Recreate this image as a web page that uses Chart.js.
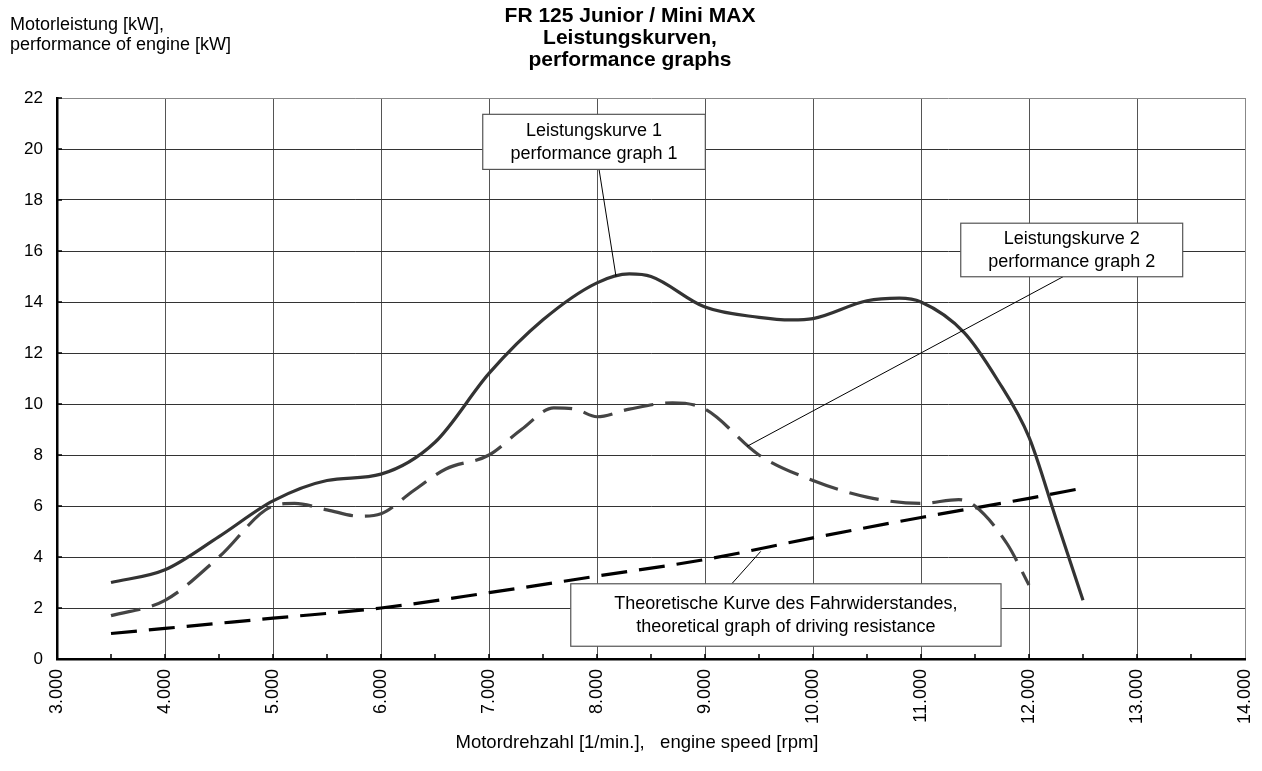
<!DOCTYPE html>
<html>
<head>
<meta charset="utf-8">
<script src="https://cdn.jsdelivr.net/npm/chart.js@4.4.1/dist/chart.umd.min.js"></script>
<style>
  html, body { margin: 0; padding: 0; background: #fff; }
  #wrap { width: 1262px; height: 771px; position: relative; }
</style>
</head>
<body>
<div id="wrap"><canvas id="powerChart"></canvas></div>
<script>
// engine speed [rpm] / power [kW]
const rpmCurve1 = [3500, 4000, 4500, 5000, 5500, 6000, 6500, 7000, 7500, 8000, 8300, 8500, 9000, 9500, 9800, 10000, 10500, 10800, 11000, 11400, 11700, 12000, 12250, 12500];
const kwCurve1 = [3.0, 3.5, 4.8, 6.2, 7.0, 7.25, 8.5, 11.2, 13.3, 14.75, 15.1, 15.0, 13.8, 13.4, 13.3, 13.35, 14.05, 14.15, 14.0, 12.8, 11.0, 8.7, 5.5, 2.3];

const rpmCurve2 = [3500, 4000, 4500, 5000, 5200, 5500, 5800, 6000, 6300, 6600, 7000, 7300, 7600, 7800, 8000, 8300, 8700, 9000, 9500, 10000, 10500, 11000, 11350, 11500, 11800, 12000];
const kwCurve2 = [1.7, 2.3, 4.0, 6.0, 6.1, 5.85, 5.6, 5.7, 6.6, 7.45, 8.0, 9.0, 9.85, 9.8, 9.5, 9.8, 10.05, 9.8, 8.0, 7.0, 6.35, 6.1, 6.25, 6.0, 4.5, 2.9];

const rpmResist = [3500, 4000, 5000, 6000, 7000, 8000, 9000, 10000, 11000, 12000, 12500];
const kwResist = [1.0, 1.2, 1.6, 2.0, 2.6, 3.25, 3.9, 4.75, 5.55, 6.3, 6.7];

const titleLines = ['FR 125 Junior / Mini MAX', 'Leistungskurven,', 'performance graphs'];
const yTitleLines = ['Motorleistung [kW],', 'performance of engine [kW]'];
const xTitle = 'Motordrehzahl [1/min.],   engine speed [rpm]';

// callout boxes, in axis units (rpm, kW)
const callouts = [
  { lines: ['Leistungskurve 1', 'performance graph 1'], x1: 6942, x2: 9003, yTop: 21.36, yBot: 19.2, from: [8019, 19.2], to: [8176, 15.0] },
  { lines: ['Leistungskurve 2', 'performance graph 2'], x1: 11368, x2: 13423, yTop: 17.09, yBot: 14.99, from: [12315, 14.99], to: [9389, 8.34] },
  { lines: ['Theoretische Kurve des Fahrwiderstandes,', 'theoretical graph of driving resistance'], x1: 7757, x2: 11741, yTop: 2.95, yBot: 0.5, from: [9250, 2.96], to: [9516, 4.22] }
];

const FONT = '"Liberation Sans", Arial, sans-serif';

function toPoints(xs, ys) {
  return xs.map((x, i) => ({ x: x, y: ys[i] }));
}

function fmtRpm(v) {
  return Math.floor(v / 1000) + '.' + String(v % 1000).padStart(3, '0');
}

const textPlugin = {
  id: 'sheetText',
  afterDraw(chart) {
    const ctx = chart.ctx;
    ctx.save();
    ctx.fillStyle = '#000';
    ctx.textBaseline = 'alphabetic';

    ctx.font = 'bold 21px ' + FONT;
    ctx.textAlign = 'center';
    titleLines.forEach((t, i) => ctx.fillText(t, 630, 22 + i * 22));

    ctx.font = '18px ' + FONT;
    ctx.textAlign = 'left';
    yTitleLines.forEach((t, i) => ctx.fillText(t, 10, 30 + i * 20));

    ctx.font = '18.5px ' + FONT;
    ctx.textAlign = 'center';
    ctx.fillText(xTitle, 637, 748);
    ctx.restore();
  }
};

const ticksPlugin = {
  id: 'innerTicks',
  afterDatasetsDraw(chart) {
    const { ctx, chartArea, scales } = chart;
    ctx.save();
    ctx.strokeStyle = '#000';
    ctx.lineWidth = 1.5;
    ctx.beginPath();
    for (let v = 3500; v < 14000; v += 500) {
      const px = scales.x.getPixelForValue(v);
      ctx.moveTo(px, chartArea.bottom);
      ctx.lineTo(px, chartArea.bottom - 5);
    }
    for (let v = 2; v <= 22; v += 2) {
      const py = scales.y.getPixelForValue(v);
      ctx.moveTo(chartArea.left, py);
      ctx.lineTo(chartArea.left + 5, py);
    }
    ctx.stroke();
    ctx.restore();
  }
};

const calloutPlugin = {
  id: 'callouts',
  afterDatasetsDraw(chart) {
    const { ctx, scales } = chart;
    const sx = scales.x, sy = scales.y;
    ctx.save();
    callouts.forEach(c => {
      // leader line
      ctx.strokeStyle = '#000';
      ctx.lineWidth = 1;
      ctx.beginPath();
      ctx.moveTo(sx.getPixelForValue(c.from[0]), sy.getPixelForValue(c.from[1]));
      ctx.lineTo(sx.getPixelForValue(c.to[0]), sy.getPixelForValue(c.to[1]));
      ctx.stroke();

      const left = sx.getPixelForValue(c.x1);
      const right = sx.getPixelForValue(c.x2);
      const top = sy.getPixelForValue(c.yTop);
      const bottom = sy.getPixelForValue(c.yBot);
      ctx.fillStyle = '#fff';
      ctx.fillRect(left, top, right - left, bottom - top);
      ctx.strokeStyle = '#555';
      ctx.lineWidth = 1.2;
      ctx.strokeRect(left, top, right - left, bottom - top);

      ctx.fillStyle = '#000';
      ctx.font = '18px ' + FONT;
      ctx.textAlign = 'center';
      ctx.textBaseline = 'middle';
      const cx = (left + right) / 2;
      const cy = (top + bottom) / 2;
      ctx.fillText(c.lines[0], cx, cy - 11);
      ctx.fillText(c.lines[1], cx, cy + 12);
    });
    ctx.restore();
  }
};

new Chart(document.getElementById('powerChart'), {
  type: 'line',
  data: {
    datasets: [
      {
        label: 'Leistungskurve 1',
        data: toPoints(rpmCurve1, kwCurve1),
        borderColor: '#333',
        borderWidth: 3.2,
        cubicInterpolationMode: 'monotone',
        pointRadius: 0
      },
      {
        label: 'Leistungskurve 2',
        data: toPoints(rpmCurve2, kwCurve2),
        borderColor: '#444',
        borderWidth: 3.2,
        borderDash: [30, 12],
        cubicInterpolationMode: 'monotone',
        pointRadius: 0
      },
      {
        label: 'Fahrwiderstand',
        data: toPoints(rpmResist, kwResist),
        borderColor: '#000',
        borderWidth: 3.2,
        borderDash: [26, 12],
        cubicInterpolationMode: 'monotone',
        pointRadius: 0
      }
    ]
  },
  options: {
    responsive: true,
    maintainAspectRatio: false,
    animation: false,
    layout: { padding: { top: 98, right: 17, bottom: 0, left: 0 } },
    plugins: {
      legend: { display: false },
      title: { display: false },
      tooltip: { enabled: false }
    },
    scales: {
      x: {
        type: 'linear',
        min: 3000,
        max: 14000,
        afterFit: (scale) => {
          scale.height = 112;
          scale.paddingLeft = 0;
          scale.paddingRight = 0;
        },
        ticks: {
          stepSize: 1000,
          minRotation: 90,
          maxRotation: 90,
          padding: 10,
          color: '#000',
          font: { family: FONT, size: 18 },
          callback: (v) => fmtRpm(v)
        },
        grid: {
          drawTicks: false,
          color: (c) => (c.tick && c.tick.value === 14000 ? '#888' : '#555'),
          lineWidth: 1
        },
        border: { color: '#000', width: 2.5 }
      },
      y: {
        min: 0,
        max: 22,
        afterFit: (scale) => {
          scale.width = 57;
          scale.paddingTop = 0;
          scale.paddingBottom = 0;
        },
        ticks: {
          stepSize: 2,
          padding: 14,
          color: '#000',
          font: { family: FONT, size: 17 }
        },
        grid: {
          drawTicks: false,
          color: (c) => (c.tick && c.tick.value === 22 ? '#888' : '#333'),
          lineWidth: 1
        },
        border: { color: '#000', width: 2.5 }
      }
    }
  },
  plugins: [ticksPlugin, calloutPlugin, textPlugin]
});
</script>
</body>
</html>
